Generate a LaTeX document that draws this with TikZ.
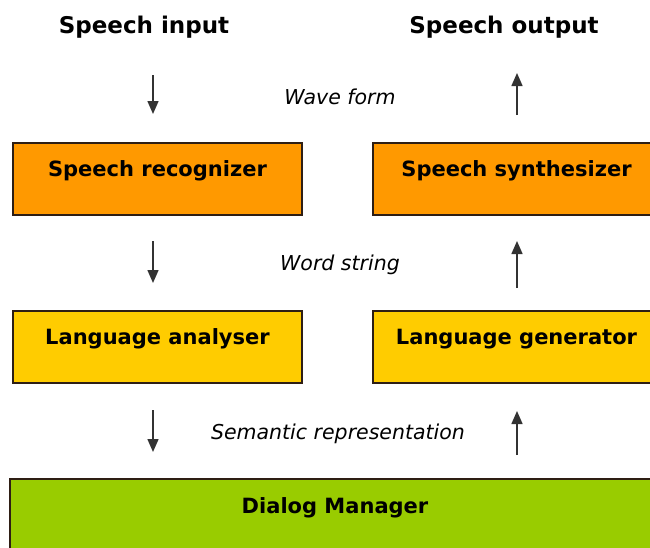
\documentclass[tikz,border=0pt]{standalone}
\usepackage{fontspec}
\setmainfont{DejaVu Sans}
\usetikzlibrary{arrows.meta}
\definecolor{recogorange}{HTML}{FF9900}
\definecolor{langyellow}{HTML}{FFCC00}
\definecolor{dialoggreen}{HTML}{99CC00}
\definecolor{boxedge}{HTML}{2E1E14}
\begin{document}
\begin{tikzpicture}[x=1pt, y=-1pt,
    block/.style={draw=boxedge, line width=1.4pt, minimum width=289pt, minimum height=72pt,
                  inner sep=0pt, font=\fontsize{21}{24}\selectfont\bfseries,
                  text height=16pt, text depth=22pt},
    title/.style={font=\fontsize{23}{26}\selectfont\bfseries},
    tag/.style={font=\fontsize{20.5}{24}\selectfont\itshape},
    flow/.style={black!80, line width=1.5pt, -{Triangle[length=13pt, width=11pt]}}]
    \useasboundingbox (0,0) rectangle (650,547);

    % Titles
    \node[title] (input) at (144,27) {Speech input};
    \node[title] (output) at (504,27) {Speech output};

    % Orange row
    \node[block, fill=recogorange] (recog) at (157.5,179) {Speech recognizer};
    \node[block, fill=recogorange, minimum width=287pt] (synth) at (516.5,179) {Speech synthesizer};

    % Yellow row
    \node[block, fill=langyellow] (analyser) at (157.5,347) {Language analyser};
    \node[block, fill=langyellow, minimum width=287pt] (generator) at (516.5,347) {Language generator};

    % Green row
    \node[block, fill=dialoggreen, minimum width=650pt, minimum height=80pt,
          text depth=27pt] (dialog) at (335,519) {Dialog Manager};

    % Labels between the rows
    \node[tag] (wave) at (340,97) {Wave form};
    \node[tag] (word) at (340,265) {Word string};
    \node[tag] (sem) at (338,434) {Semantic representation};

    % Arrow ends
    \coordinate (a1) at (153,75);  \coordinate (b1) at (153,114);
    \coordinate (c1) at (517,115); \coordinate (d1) at (517,73);
    \coordinate (a2) at (153,241); \coordinate (b2) at (153,283);
    \coordinate (c2) at (517,288); \coordinate (d2) at (517,241);
    \coordinate (a3) at (153,410); \coordinate (b3) at (153,452);
    \coordinate (c3) at (517,455); \coordinate (d3) at (517,411);

    \draw[flow] (a1) -- (b1);
    \draw[flow] (c1) -- (d1);
    \draw[flow] (a2) -- (b2);
    \draw[flow] (c2) -- (d2);
    \draw[flow] (a3) -- (b3);
    \draw[flow] (c3) -- (d3);
\end{tikzpicture}
\end{document}
